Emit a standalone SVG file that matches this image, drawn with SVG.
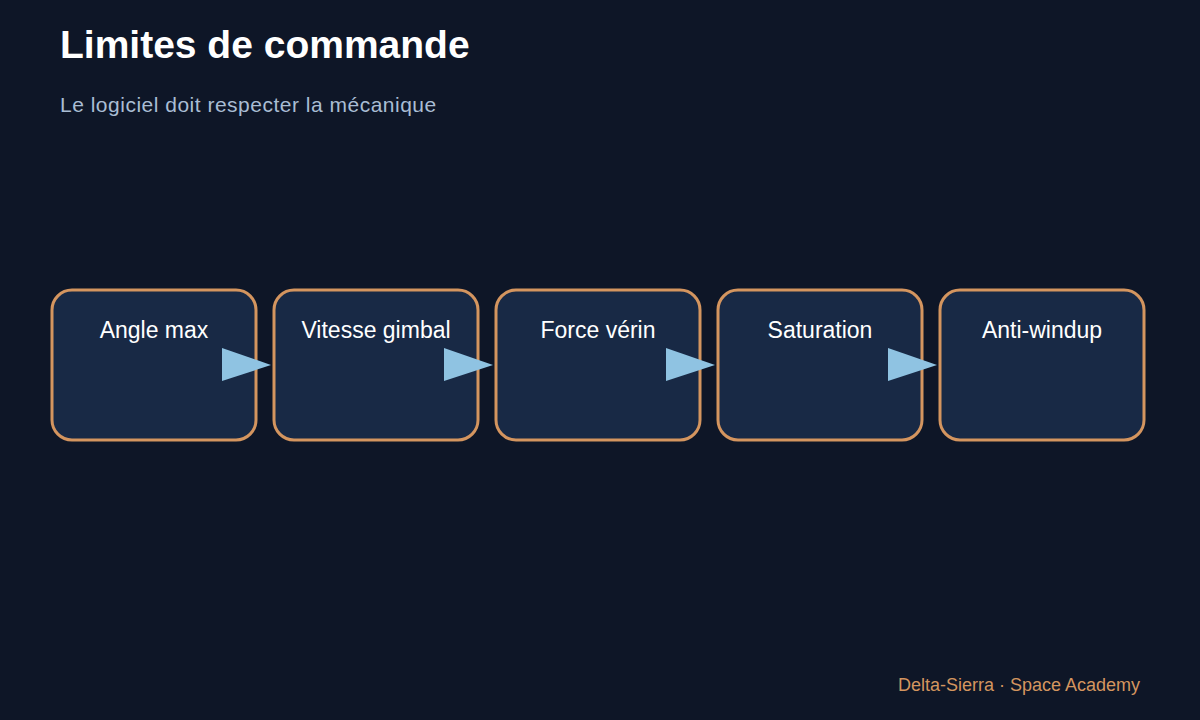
<svg xmlns="http://www.w3.org/2000/svg" width="1200" height="720" viewBox="0 0 1200 720">
<style>
.box{fill:#182945;stroke:#d4955f;stroke-width:3}
.lbl{font-family:"Liberation Sans",Arial,sans-serif;font-size:23px;fill:#ffffff;text-anchor:middle}
.arr{fill:#8fc3e2}
</style>
<rect width="1200" height="720" fill="#0e1627"/>
<text x="60" y="58" font-family="Liberation Sans,Arial,sans-serif" font-size="39" font-weight="bold" fill="#ffffff">Limites de commande</text>
<text x="60" y="112" font-family="Liberation Sans,Arial,sans-serif" font-size="21" fill="#a9bdd4" letter-spacing="0.5">Le logiciel doit respecter la mécanique</text>
<g id="n1"><rect class="box" x="52" y="290" width="204" height="150" rx="20"/><text class="lbl" x="154" y="338">Angle max</text></g>
<g id="n2"><rect class="box" x="274" y="290" width="204" height="150" rx="20"/><text class="lbl" x="376" y="338">Vitesse gimbal</text></g>
<g id="n3"><rect class="box" x="496" y="290" width="204" height="150" rx="20"/><text class="lbl" x="598" y="338">Force vérin</text></g>
<g id="n4"><rect class="box" x="718" y="290" width="204" height="150" rx="20"/><text class="lbl" x="820" y="338">Saturation</text></g>
<g id="n5"><rect class="box" x="940" y="290" width="204" height="150" rx="20"/><text class="lbl" x="1042" y="338">Anti-windup</text></g>
<g id="connectors">
<polygon class="arr" points="222,348 271,365 222,381"/>
<polygon class="arr" points="444,348 493,365 444,381"/>
<polygon class="arr" points="666,348 715,365 666,381"/>
<polygon class="arr" points="888,348 937,365 888,381"/>
</g>
<text x="1140" y="691" text-anchor="end" font-family="Liberation Sans,Arial,sans-serif" font-size="18" fill="#d4955f">Delta-Sierra · Space Academy</text>
</svg>
